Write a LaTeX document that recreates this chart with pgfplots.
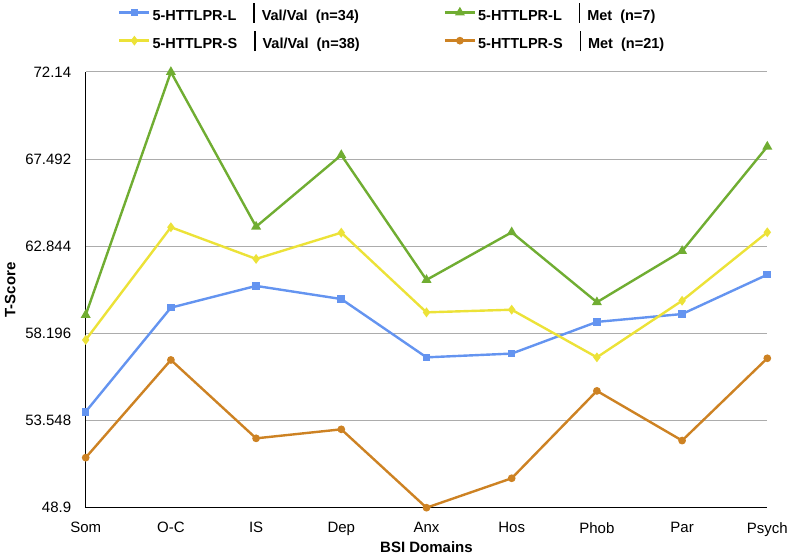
\documentclass[border=0pt]{standalone}
\usepackage{pgfplots}
\pgfplotsset{compat=1.18}
\usepackage{fontspec}
\setmainfont{Liberation Sans}
\definecolor{cblue}{RGB}{100,148,240}
\definecolor{cgreen}{RGB}{112,173,50}
\definecolor{cyellow}{RGB}{236,226,56}
\definecolor{corange}{RGB}{205,130,35}
\newcommand{\sep}{\hspace{17pt}\rule[-0.3ex]{1.4pt}{2.6ex}\hspace{7pt}}
\begin{document}
\begin{tikzpicture}[x=1pt,y=1pt]
\useasboundingbox (-85.7,-51.3) rectangle (704.3,507.7);
\begin{axis}[
  scale only axis,
  width=681.6pt, height=435.7pt,
  xmin=0, xmax=8, ymin=48.9, ymax=72.14,
  axis lines*=left,
  axis line style={black, line width=1.2pt},
  xtick={0,...,8},
  xticklabels={Som,O-C,IS,Dep,Anx,Hos,Phob,Par,Psych},
  ytick={48.9,53.548,58.196,62.844,67.492,72.14},
  yticklabels={48.9,53.548,58.196,62.844,67.492,72.14},
  ymajorgrids, grid style={gray!65, line width=1pt},
  major tick length=0pt,
  tick label style={font=\fontsize{15}{16}\selectfont},
  yticklabel style={xshift=-11pt},
  xticklabel style={yshift=-11pt},
  xlabel={\textbf{BSI Domains}}, ylabel={\textbf{T-Score}},
  label style={font=\fontsize{15}{16}\selectfont},
  xlabel style={yshift=1pt},
  ylabel style={yshift=3pt},
  clip=false,
  legend columns=2,
  legend style={at={(0.043,1.168)}, anchor=north west, draw=none, fill=none,
    font=\fontsize{14.5}{15}\selectfont\bfseries, row sep=5pt,
    /tikz/every even column/.style={column sep=82pt}},
  legend cell align=left,
  legend image code/.code={\draw[mark repeat=2,mark phase=2] plot coordinates {(0pt,0pt)(15pt,0pt)(30pt,0pt)};},
  every axis plot/.append style={line width=2.4pt, mark size=2.6pt},
]
\addplot[cblue, mark=square*] coordinates {(0,54.02)(1,59.57)(2,60.73)(3,60.03)(4,56.92)(5,57.12)(6,58.81)(7,59.23)(8,61.33)};
\addlegendentry{5-HTTLPR-L\sep Val/Val\ \ (n=34)}
\addplot[cgreen, mark=triangle*, mark size=3.4pt] coordinates {(0,59.18)(1,72.14)(2,63.89)(3,67.71)(4,61.05)(5,63.59)(6,59.86)(7,62.59)(8,68.16)};
\addlegendentry{5-HTTLPR-L\sep Met\ \ (n=7)}
\addplot[cyellow, mark=diamond*, mark size=3pt] coordinates {(0,57.85)(1,63.86)(2,62.17)(3,63.57)(4,59.32)(5,59.46)(6,56.92)(7,59.94)(8,63.59)};
\addlegendentry{5-HTTLPR-S\sep Val/Val\ \ (n=38)}
\addplot[corange, mark=*] coordinates {(0,51.57)(1,56.78)(2,52.60)(3,53.08)(4,48.9)(5,50.47)(6,55.13)(7,52.48)(8,56.87)};
\addlegendentry{5-HTTLPR-S\sep Met\ \ (n=21)}
\end{axis}
\end{tikzpicture}
\end{document}
